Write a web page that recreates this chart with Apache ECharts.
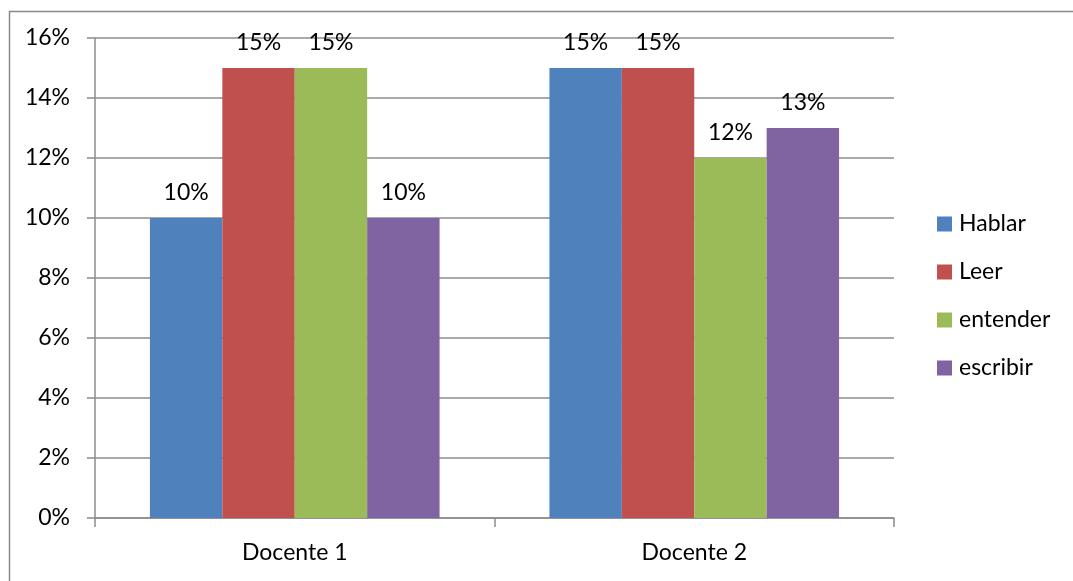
<!DOCTYPE html>
<html>
<head>
<meta charset="utf-8">
<script src="https://cdn.jsdelivr.net/npm/echarts@6/dist/echarts.min.js"></script>
<style>
  html, body { margin: 0; padding: 0; background: #fff; }
  #chart { width: 1073px; height: 581px; }
</style>
</head>
<body>
<div id="chart"></div>
<script>
// Categories and series values (percent)
var categories = ['Docente 1', 'Docente 2'];
var seriesNames = ['Hablar', 'Leer', 'entender', 'escribir'];
var hablar = [10, 15];
var leer = [15, 15];
var entender = [15, 12];
var escribir = [10, 13];
var seriesColors = ['#4F81BD', '#C0504D', '#9BBB59', '#8064A2'];

var FONT = 'Lato, "Noto Sans", sans-serif';
var FONT_SIZE = 23;
var values = [hablar, leer, entender, escribir];

var chart = echarts.init(document.getElementById('chart'), null, { renderer: 'canvas' });

var series = seriesNames.map(function (name, i) {
  return {
    name: name,
    type: 'bar',
    data: values[i],
    barGap: '0%',
    barCategoryGap: '27.5%',
    itemStyle: { color: seriesColors[i] },
    label: {
      show: true,
      position: 'top',
      distance: 14,
      color: '#000',
      fontFamily: FONT,
      fontSize: FONT_SIZE,
      formatter: function (p) { return p.value + '%'; }
    }
  };
});

chart.setOption({
  animation: false,
  backgroundColor: '#fff',
  graphic: [{
    type: 'rect',
    left: 7, top: 9,
    shape: { width: 1200, height: 700 },
    style: { fill: 'none', stroke: '#888', lineWidth: 1.5 },
    silent: true
  }],
  grid: { left: 95, top: 38, right: 179, bottom: 63, containLabel: false },
  legend: {
    orient: 'vertical',
    left: 932,
    top: 206,
    itemWidth: 15,
    itemHeight: 15,
    itemGap: 22,
    icon: 'rect',
    textStyle: { color: '#000', fontFamily: FONT, fontSize: FONT_SIZE, lineHeight: 26, padding: [0, 0, 0, 2] },
    data: seriesNames
  },
  xAxis: {
    type: 'category',
    data: categories,
    axisLine: { lineStyle: { color: '#8c8c8c', width: 1.5 } },
    axisTick: { show: true, length: 9, lineStyle: { color: '#8c8c8c', width: 1.5 } },
    axisLabel: { color: '#000', fontFamily: FONT, fontSize: FONT_SIZE, margin: 23 }
  },
  yAxis: {
    type: 'value',
    min: 0,
    max: 16,
    interval: 2,
    axisLine: { show: true, lineStyle: { color: '#8c8c8c', width: 1.5 } },
    axisTick: { show: true, length: 8, lineStyle: { color: '#8c8c8c', width: 1.5 } },
    axisLabel: { color: '#000', fontFamily: FONT, fontSize: FONT_SIZE, margin: 25, formatter: '{value}%' },
    splitLine: { show: true, lineStyle: { color: '#8c8c8c', width: 1.5 } }
  },
  series: series
});
</script>
</body>
</html>
